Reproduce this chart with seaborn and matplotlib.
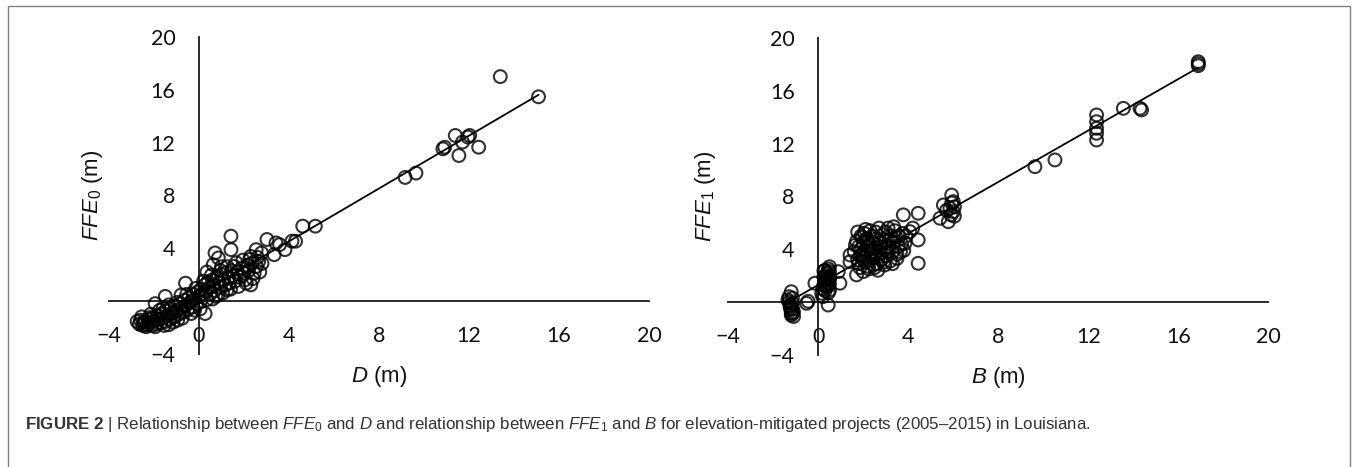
import matplotlib
matplotlib.use("Agg")
import matplotlib.pyplot as plt
from matplotlib.patches import Rectangle
import seaborn as sns
import pandas as pd

# left panel: D vs FFE0 (m)
D = [-2.75, -2.65, -2.6, -2.5, -2.45, -2.4, -2.3, -2.25, -2.2, -2.1, -2.05, -2.0, -1.95, -1.9, -1.85,
     -1.8, -1.7, -1.65, -1.6, -1.5, -1.5, -1.45, -1.4, -1.3, -1.25, -1.2, -1.1, -1.05, -1.0, -0.9,
     -0.85, -0.8, -0.7, -0.65, -0.6, -0.6, -0.5, -0.45, -0.4, -0.3, -0.25, -0.2, -0.1, -0.05, 0.0, 0.05,
     0.1, 0.15, 0.25, 0.27, 0.3, 0.4, 0.45, 0.5, 0.6, 0.65, 0.7, 0.8, 0.85, 0.9, 0.95, 1.0, 1.1, 1.15,
     1.2, 1.3, 1.35, 1.45, 1.5, 1.55, 1.6, 1.7, 1.8, 1.9, 2.0, 2.1, 2.15, 2.2, 2.3, 2.35, 2.45, 2.55,
     2.65, 2.8,
     -2.55, -2.35, -2.15, -1.95, -1.75, -1.55, -1.35, -1.15, -0.95, -0.75, -0.55, -0.35, -0.15, 0.05,
     0.2, 0.35, 0.55, 0.75, 0.95, 1.05, 1.25, 1.4, 1.65, 1.75, 1.95, 2.05, 2.25, 2.4, 2.6, 2.7,
     -2.2, -1.6, -0.95, -0.2, 0.6, 1.25, 0.35, 1.0, -0.8, -1.35,
     0.63, 0.71, 0.86, 1.42, 1.42, 2.3, 2.54, 2.78, 3.02, 3.34, 3.42, 3.58, 3.82, 4.13, 4.29, 4.61,
     5.17, 9.16, 9.64, 10.84, 10.92, 11.39, 11.55, 11.71, 11.95, 12.03, 12.43, 13.39, 15.09]
FFE0 = [-1.55, -1.75, -1.45, -1.85, -1.6, -1.5, -1.8, -1.4, -1.65, -1.85, -1.3, -1.55, -0.2, -1.75, -1.1,
        -1.4, -1.65, -0.95, -1.3, -1.55, 0.35, -0.75, -1.1, -1.4, -0.6, -0.9, -1.2, -0.4, -0.75, -1.0,
        -0.2, -0.55, -0.85, 0.05, -0.35, 1.35, -0.65, 0.25, -0.1, -0.45, 0.5, 0.15, -0.2, 0.7, 0.35, -0.05,
        0.9, 0.5, 1.2, -0.95, 0.7, 1.45, 1.0, 0.55, 1.6, 1.2, 0.8, 1.85, 0.45, 1.4, 1.05, 2.0, 1.6, 1.2,
        2.15, 1.75, 1.35, 2.3, 1.9, 2.62, 1.5, 2.2, 1.8, 2.5, 2.1, 1.35, 2.7, 2.3, 1.22, 2.85, 2.1, 2.62,
        3.0, 2.85,
        -1.2, -1.95, -1.0, -1.95, -0.7, -1.85, -0.3, -1.6, -0.1, -1.3, 0.5, -0.95, 0.95, -0.6,
        1.5, 0.1, 1.95, 0.35, 2.3, 0.6, 2.6, 0.9, 2.9, 1.1, 3.1, 1.6, 3.15, 1.7, 3.3, 2.2,
        -1.25, -0.55, -1.45, -0.7, 0.15, 0.85, 2.2, 2.6, 0.45, -1.8,
        2.75, 3.64, 3.26, 3.89, 4.91, 3.38, 3.89, 3.64, 4.66, 3.51, 4.4, 4.27, 3.89, 4.53, 4.53, 5.67,
        5.67, 9.36, 9.69, 11.53, 11.65, 12.54, 11.02, 12.04, 12.42, 12.54, 11.65, 17.0, 15.47]

# right panel: B vs FFE1 (m)
B = [-1.35, -1.3, -1.25, -1.2, -1.2, -1.15, -1.15, -1.1, -1.25, -1.1, -1.2, -1.3,
     -1.2, -1.15, -1.2, -1.15,
     -0.52, -0.45, 0.44, -0.15,
     0.15, 0.2, 0.25, 0.3, 0.35, 0.4, 0.45, 0.5, 0.2, 0.3, 0.4, 0.45, 0.5, 0.35, 0.25, 0.52, 0.5,
     0.3, 0.45, 0.4, 0.25, 0.5, 0.35, 0.5,
     0.96, 0.89, 1.41, 1.41, 1.7,
     1.6, 1.7, 1.75, 1.8, 1.85, 1.9, 1.95, 2.0, 2.0, 2.05, 2.1, 2.15, 2.2, 2.25, 2.3, 2.35, 2.4, 2.45,
     2.5, 2.55, 2.6, 2.65, 2.7, 2.75, 2.8, 2.85, 2.9, 2.95, 3.0, 3.05, 3.1, 3.15, 3.2, 3.25, 3.3, 3.35,
     3.4, 3.5, 3.55, 3.6, 3.7, 3.8, 3.75, 1.9, 2.2, 2.4, 2.0,
     1.65, 1.75, 1.8, 1.95, 2.05, 2.1, 2.2, 2.3, 2.35, 2.5, 2.55, 2.65, 2.7, 2.8, 2.9, 3.0, 3.1, 3.2,
     3.3, 3.45, 3.5, 3.65, 2.15, 2.45, 2.75, 3.05, 1.85, 2.6, 3.35, 3.9,
     3.78, 4.44, 4.44, 4.44, 3.85, 4.07, 4.2,
     5.41, 5.56, 5.7, 5.78, 5.85, 5.93, 5.93, 6.0, 6.05, 6.0, 5.9, 6.05,
     9.63, 10.52, 12.37, 12.37, 12.37, 12.37, 12.37, 13.56, 14.3, 14.37, 16.89, 16.89, 16.89]
FFE1 = [0.15, 0.4, -0.25, 0.78, -0.6, -0.86, -0.1, -1.1, -0.45, -0.75, -1.0, 0.0,
        -0.3, -0.5, -0.85, 0.3,
        -0.1, 0.05, -0.23, 1.42,
        0.66, 1.0, 1.3, 1.6, 1.9, 2.2, 2.5, 2.67, 0.4, 0.85, 1.15, 1.45, 1.75, 2.05, 2.35, 1.92, 0.9,
        2.4, 0.7, 1.7, 1.9, 2.3, 1.25, 1.35,
        1.42, 2.3, 3.05, 3.56, 2.05,
        3.8, 4.6, 3.2, 4.2, 2.6, 5.0, 3.6, 4.4, 2.3, 5.2, 3.0, 4.8, 3.9, 2.5, 4.3, 3.3, 5.0, 2.8,
        4.1, 3.6, 4.8, 2.4, 3.9, 4.5, 3.2, 5.1, 4.0, 2.8, 4.6, 3.5, 5.6, 4.2, 3.1, 5.0, 3.8, 4.5,
        5.4, 3.6, 4.2, 5.0, 4.4, 3.9, 5.2, 4.0, 4.6, 3.6, 3.4,
        4.3, 5.3, 2.9, 4.9, 3.1, 5.5, 2.7, 5.4, 3.8, 2.6, 5.3, 3.4, 5.6, 4.2, 3.0, 5.3, 3.8, 4.7,
        2.9, 4.9, 3.3, 3.8, 4.2, 4.5, 3.7, 4.1, 3.5, 2.9, 5.7, 5.0,
        6.6, 6.72, 4.7, 2.93, 4.44, 5.33, 5.6,
        6.34, 7.35, 6.95, 6.08, 7.1, 7.5, 8.1, 6.84, 7.2, 7.6, 6.6, 6.5,
        10.25, 10.76, 14.17, 13.66, 13.16, 12.78, 12.27, 14.67, 14.67, 14.55, 18.2, 17.9, 18.05]

x_ticks = [-4, 0, 4, 8, 12, 16, 20]
y_ticks = [-4, 4, 8, 12, 16, 20]

sns.set_style("white")
plt.rcParams["font.family"] = ["Lato", "DejaVu Sans"]
plt.rcParams["mathtext.fontset"] = "custom"
plt.rcParams["mathtext.rm"] = "Liberation Sans"
plt.rcParams["mathtext.it"] = "Liberation Sans:italic"
plt.rcParams["mathtext.bf"] = "Liberation Sans:bold"

fig = plt.figure(figsize=(13.58, 4.67), dpi=100)
ax1 = fig.add_axes([0.0803, 0.2424, 0.3976, 0.6784])
ax2 = fig.add_axes([0.5363, 0.2403, 0.3976, 0.6784])

panels = [
    (ax1, pd.DataFrame({"D": D, "FFE0": FFE0}), "D", "FFE0",
     r"$\mathit{D}$ (m)", r"$\mathit{FFE}_{\mathit{0}}$ (m)", -0.030),
    (ax2, pd.DataFrame({"B": B, "FFE1": FFE1}), "B", "FFE1",
     r"$\mathit{B}$ (m)", r"$\mathit{FFE}_{\mathit{1}}$ (m)", -0.043),
]

for ax, df, xc, yc, xl, yl, ylx in panels:
    sns.regplot(data=df, x=xc, y=yc, ax=ax, ci=None, color="black",
                scatter_kws=dict(facecolors="none", edgecolors="black", s=85, linewidths=1.5, zorder=3),
                line_kws=dict(color="black", lw=1.3, zorder=2))
    ax.set_xlim(-4, 20)
    ax.set_ylim(-4, 20)
    ax.set_xticks(x_ticks)
    ax.set_yticks(y_ticks)
    for s in ["top", "right"]:
        ax.spines[s].set_visible(False)
    for s in ["left", "bottom"]:
        ax.spines[s].set_position(("data", 0))
        ax.spines[s].set_color("#1a1a1a")
        ax.spines[s].set_linewidth(1.3)
    ax.tick_params(axis="x", length=0, pad=18, labelsize=15.5, labelcolor="#111111")
    ax.tick_params(axis="y", length=0, pad=17, labelsize=15.5, labelcolor="#111111")
    ax.set_xlabel(xl, fontsize=16, family="Liberation Sans", color="#111111")
    ax.set_ylabel(yl, fontsize=16, family="Liberation Sans", color="#111111")
    ax.xaxis.label.set_va("center")
    ax.xaxis.set_label_coords(0.5, -0.073)
    ax.yaxis.label.set_va("center")
    ax.yaxis.set_label_coords(ylx, 0.5)

caption = (r"$\mathbf{FIGURE\ 2}$ | Relationship between $\mathit{FFE}_{\mathrm{0}}$ and $\mathit{D}$ "
           r"and relationship between $\mathit{FFE}_{\mathrm{1}}$ and $\mathit{B}$ for "
           "elevation-mitigated projects (2005\u20132015) in Louisiana.")
fig.text(25 / 1358, 1 - 425 / 467, caption, ha="left", va="center", fontsize=12.2,
         family="Liberation Sans", color="#333333")

fig.add_artist(Rectangle((8 / 1358, -0.1), 1342 / 1358, 1.1 - 5.5 / 467, transform=fig.transFigure,
                         fill=False, edgecolor="#808080", linewidth=1.0))

fig.savefig("out.png", dpi=100)
